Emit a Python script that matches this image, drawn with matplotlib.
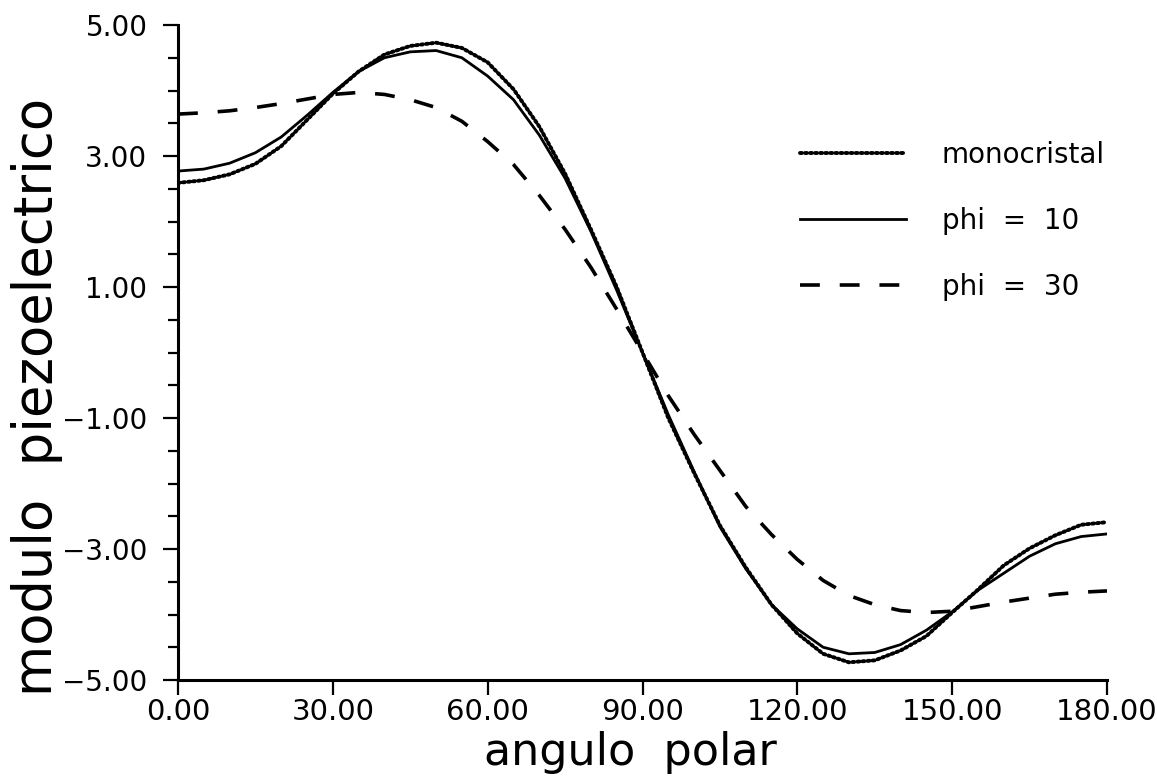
import matplotlib
matplotlib.use("Agg")
import matplotlib.pyplot as plt
from matplotlib.ticker import MultipleLocator, FixedLocator

angle = [0, 5, 10, 15, 20, 25, 30, 35, 40, 45, 50, 55, 60, 65, 70, 75, 80, 85, 90,
         95, 100, 105, 110, 115, 120, 125, 130, 135, 140, 145, 150, 155, 160, 165, 170, 175, 180]

monocristal = [2.59, 2.63, 2.72, 2.88, 3.15, 3.55, 3.95, 4.29, 4.55, 4.68, 4.73, 4.65, 4.43, 4.02, 3.45, 2.73, 1.88, 1.00, 0.00,
               -1.00, -1.84, -2.64, -3.28, -3.85, -4.29, -4.60, -4.73, -4.70, -4.55, -4.33, -3.97, -3.62, -3.25, -2.99, -2.79, -2.63, -2.59]

phi10 = [2.77, 2.80, 2.89, 3.05, 3.29, 3.62, 3.97, 4.29, 4.50, 4.59, 4.61, 4.50, 4.22, 3.86, 3.32, 2.66, 1.85, 0.95, 0.00,
         -0.95, -1.82, -2.66, -3.30, -3.85, -4.22, -4.50, -4.60, -4.58, -4.46, -4.24, -3.96, -3.63, -3.37, -3.11, -2.92, -2.81, -2.77]

phi30 = [3.64, 3.66, 3.69, 3.74, 3.80, 3.87, 3.94, 3.97, 3.94, 3.86, 3.74, 3.53, 3.22, 2.87, 2.40, 1.88, 1.30, 0.66, 0.00,
         -0.66, -1.25, -1.80, -2.35, -2.78, -3.16, -3.48, -3.71, -3.85, -3.94, -3.97, -3.95, -3.88, -3.81, -3.75, -3.69, -3.66, -3.64]

series_labels = ["monocristal", "phi  =  10", "phi  =  30"]
x_ticks = [0, 30, 60, 90, 120, 150, 180]
x_ticklabels = ["0.00", "30.00", "60.00", "90.00", "120.00", "150.00", "180.00"]
y_ticks = [-5, -3, -1, 1, 3, 5]
y_ticklabels = ["\u22125.00", "\u22123.00", "\u22121.00", "1.00", "3.00", "5.00"]

plt.rcParams['font.family'] = ['DejaVu Sans']

fig = plt.figure(figsize=(11.57, 7.80), dpi=100)
ax = fig.add_axes([178/1157, 100/780, 929/1157, 655/780])

ax.plot(angle, monocristal, color='black', lw=2.8, linestyle=(0, (0.5, 0.8)),
        dash_capstyle='round', label=series_labels[0])
ax.plot(angle, phi10, color='black', lw=2.0, linestyle='-', label=series_labels[1])
ax.plot(angle, phi30, color='black', lw=2.6, linestyle=(0, (5.5, 5.5)), label=series_labels[2])

ax.set_xlim(0, 180)
ax.set_ylim(-5, 5)

for s in ['top', 'right']:
    ax.spines[s].set_visible(False)
for s in ['left', 'bottom']:
    ax.spines[s].set_linewidth(2.2)

ax.xaxis.set_major_locator(FixedLocator(x_ticks))
ax.set_xticklabels(x_ticklabels)
ax.yaxis.set_major_locator(FixedLocator(y_ticks))
ax.set_yticklabels(y_ticklabels)
ax.yaxis.set_minor_locator(MultipleLocator(0.5))

ax.tick_params(axis='x', which='major', direction='out', length=11, width=1.6,
               labelsize=21, pad=2)
ax.tick_params(axis='y', which='major', direction='out', length=11, width=1.6,
               labelsize=20, pad=11)
ax.tick_params(axis='y', which='minor', direction='out', length=7, width=1.6)

ax.set_xlabel("angulo  polar", fontsize=32, va='center')
ax.xaxis.set_label_coords(0.487, -0.11)
ax.set_ylabel("modulo  piezoelectrico", fontsize=38, va='center')
ax.yaxis.set_label_coords(-0.152, 0.432)

leg = ax.legend(loc='upper left', bbox_to_anchor=(622/929, (680-141)/655), frameon=False,
                fontsize=20, handlelength=3.8, handletextpad=1.3, labelspacing=1.36,
                borderaxespad=0, borderpad=0)

fig.savefig("out.png", dpi=100)
